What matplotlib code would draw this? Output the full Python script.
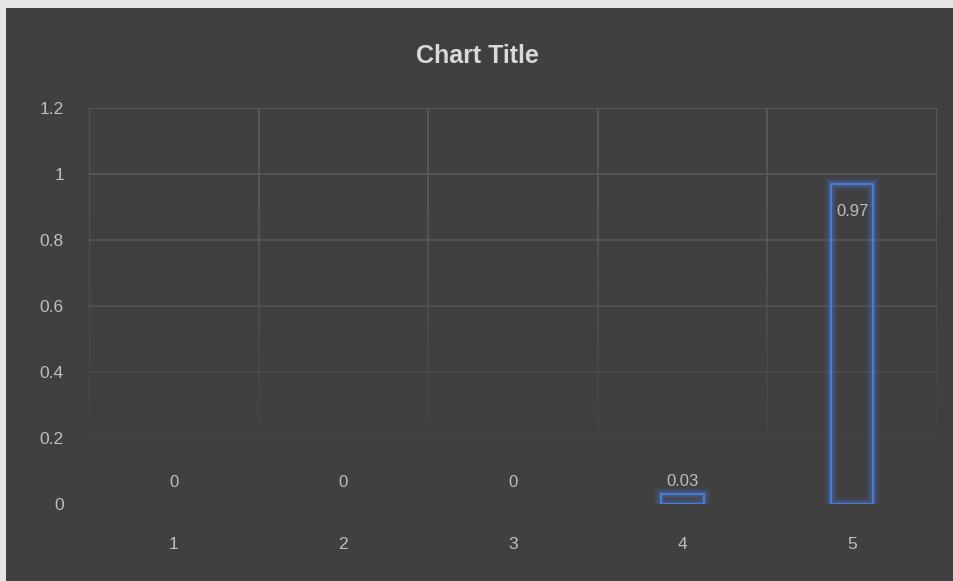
import matplotlib
matplotlib.use('Agg')
import matplotlib.pyplot as plt
import numpy as np
from matplotlib.collections import LineCollection
from matplotlib.patches import Rectangle

categories = ['1', '2', '3', '4', '5']
values = [0, 0, 0, 0.03, 0.97]
value_labels = ['0', '0', '0', '0.03', '0.97']
y_ticks = [0, 0.2, 0.4, 0.6, 0.8, 1, 1.2]
y_tick_labels = ['0', '0.2', '0.4', '0.6', '0.8', '1', '1.2']

BG = '#404040'
GRID = '#5a5a5a'
TEXT = '#bfbfbf'
BAR_EDGE = '#4a7bd6'

plt.rcParams['font.family'] = ['Liberation Sans Narrow', 'Liberation Sans', 'DejaVu Sans']

fig = plt.figure(figsize=(9.54, 5.81), dpi=100)
fig.patch.set_facecolor('#e6e6e6')
# dark chart area (thin light border at top/left like the screenshot)
fig.patches.append(Rectangle((6 / 954, 0), 1, 1 - 8 / 581, transform=fig.transFigure,
                             facecolor=BG, edgecolor='none', zorder=-10))

ax = fig.add_axes([89 / 954, 1 - 504 / 581, (937 - 89) / 954, (504 - 108) / 581])
ax.patch.set_alpha(0)
for s in ax.spines.values():
    s.set_visible(False)

x = np.arange(1, len(categories) + 1)
ax.set_xlim(0.5, len(categories) + 0.5)
ax.set_ylim(0, 1.2)

# gridlines fading towards the bottom
grid_alpha = {0.2: 0.15, 0.4: 0.4, 0.6: 0.75, 0.8: 0.9, 1: 1.0, 1.2: 1.0}
for t in y_ticks[1:]:
    ax.axhline(t, color=GRID, linewidth=1.2, alpha=grid_alpha[t], zorder=1)

ys = np.linspace(0, 1.2, 60)
for xv in np.arange(0.5, len(categories) + 1):
    segs = [[(xv, ys[i]), (xv, ys[i + 1])] for i in range(len(ys) - 1)]
    alphas = np.clip((ys[:-1] - 0.15) / 0.75, 0, 1)
    cols = [matplotlib.colors.to_rgba(GRID, a) for a in alphas]
    ax.add_collection(LineCollection(segs, colors=cols, linewidths=1.2, zorder=1))

# bars with soft glow (zero-height bars are not drawn)
width = 0.25
nz = [i for i, v in enumerate(values) if v > 0]
xb = x[nz]
vb = [values[i] for i in nz]
for lw, a in [(10, 0.07), (7, 0.12), (4.5, 0.2)]:
    ax.bar(xb, vb, width=width, facecolor='none', edgecolor=BAR_EDGE,
           linewidth=lw, alpha=a, zorder=2)
ax.bar(xb, vb, width=width, facecolor='none', edgecolor=BAR_EDGE,
       linewidth=1.6, zorder=3)

# data labels
for xi, v, lab in zip(x, values, value_labels):
    if v > 0.5:
        ax.annotate(lab, (xi, v), xytext=(0, -20), textcoords='offset points',
                    ha='center', va='center', color=TEXT, fontsize=12, zorder=4)
    else:
        off = 10 if v == 0 else 4
        ax.annotate(lab, (xi, v), xytext=(0, off), textcoords='offset points',
                    ha='center', va='bottom', color=TEXT, fontsize=12, zorder=4)

ax.set_yticks(y_ticks)
ax.set_yticklabels(y_tick_labels)
ax.set_xticks(x)
ax.set_xticklabels(categories)
ax.tick_params(axis='both', length=0, colors=TEXT, labelsize=12.5)
ax.tick_params(axis='y', pad=18)
ax.tick_params(axis='x', pad=24)

fig.text(0.5, 1 - 56 / 581, 'Chart Title', ha='center', va='center',
         color='#d9d9d9', fontsize=18, fontweight='bold')

fig.savefig('out.png', dpi=100, facecolor=fig.get_facecolor())
